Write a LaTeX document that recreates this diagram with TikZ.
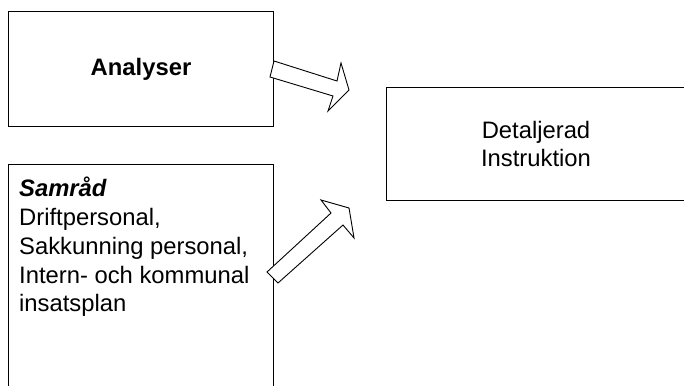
\documentclass[tikz,border=0pt]{standalone}
\usepackage{fontspec}
\setmainfont{Liberation Sans}
\begin{document}
\begin{tikzpicture}[x=1pt,y=-1pt,
  boxline/.style={draw=black,line width=1pt},
  txt/.style={inner sep=0pt,font=\fontsize{23.8}{28.8}\selectfont},
  blockarrow/.style={draw=black,line width=0.9pt,fill=white,line join=miter}]
\useasboundingbox (0,0) rectangle (684,385);
% boxes
\draw[boxline] (8,12) rectangle (273,126);
\node[txt,font=\fontsize{23.8}{28.8}\selectfont\bfseries] (analyser) at (141,69) {Analyser};
\draw[boxline] (8,400) -- (8,164) -- (273,164) -- (273,400);
\draw[boxline] (700,88) -- (386,88) -- (386,200) -- (700,200);
\node[txt,align=center] (detalj) at (536,144) {Detaljerad\\Instruktion};
% left-bottom text
\node[txt,anchor=base west] (l1) at (19,196) {\itshape\bfseries Samråd};
\node[txt,anchor=base west] (l2) at (19,225) {Driftpersonal,};
\node[txt,anchor=base west] (l3) at (19,254) {Sakkunning personal,};
\node[txt,anchor=base west] (l4) at (19,283) {Intern- och kommunal};
\node[txt,anchor=base west] (l5) at (19,311) {insatsplan};
% block arrows
\draw[blockarrow] (274,61) -- (337,81) -- (341,63) -- (349,90) -- (328,111) -- (333,96) -- (270,77) -- cycle;
\draw[blockarrow] (267,272) -- (278,283) -- (343,225) -- (354,238) -- (349,208) -- (321,200) -- (331,213) -- cycle;
\end{tikzpicture}
\end{document}
